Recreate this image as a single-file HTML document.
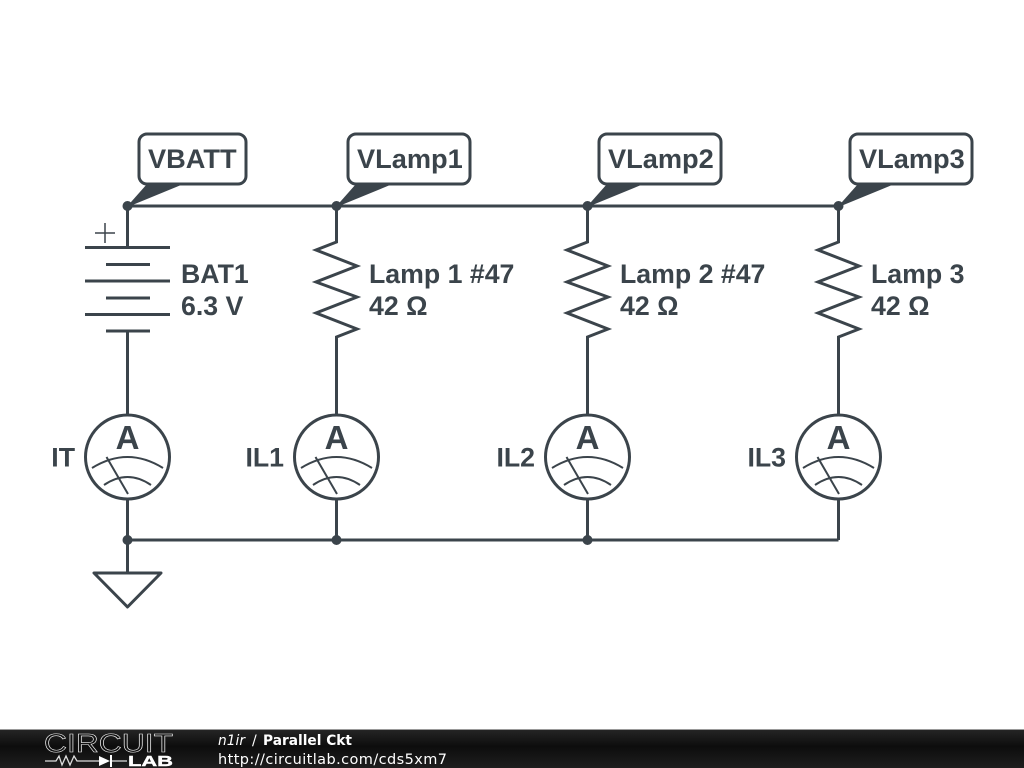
<!DOCTYPE html>
<html><head><meta charset="utf-8"><style>
html,body{margin:0;padding:0;background:#fff;width:1024px;height:768px;overflow:hidden}
svg{display:block}
.l{font:bold 26.7px "Liberation Sans",sans-serif;fill:#3b444b}
.v{font:bold 27.2px "Liberation Sans",sans-serif;fill:#3b444b}
.f{font:14.5px "DejaVu Sans",sans-serif;fill:#fff}
</style></head><body>
<svg width="1024" height="768" viewBox="0 0 1024 768" xmlns="http://www.w3.org/2000/svg">
<defs>
<linearGradient id="g" x1="0" y1="0" x2="0" y2="1"><stop offset="0" stop-color="#262626"/><stop offset=".45" stop-color="#0d0d0d"/><stop offset="1" stop-color="#1e1e1e"/></linearGradient>
<g id="am">
<circle cx="0" cy="0" r="42" fill="#fff" stroke="#3b444b" stroke-width="3"/>
<text x="0" y="-8" text-anchor="middle" style="font:bold 33px 'Liberation Sans',sans-serif;fill:#3b444b">A</text>
<path d="M-35.500 11Q0 -11 35.500 11M-23.500 28Q0 12 23.500 28M-21 0L0.500 37" fill="none" stroke="#3b444b" stroke-width="2"/>
</g>
<path id="rs" d="M0 35L0 36L-20.500 44L20.500 60L-20.500 76L20.500 91L-20.500 107L20.500 123L0 131L0 209" fill="none" stroke="#3b444b" stroke-width="3"/>
</defs>
<rect width="1024" height="768" fill="#fff"/>
<g fill="none" stroke="#3b444b" stroke-width="3">
<path d="M127.500 206H838.500M127.500 540H838.500"/>
<path d="M127.500 206V247.500M127.500 331V415M127.500 499V573M336.500 206V241M587.500 206V241M838.500 206V241M336.500 499V540M587.500 499V540M838.500 499V540"/>
<path d="M85 247.500H170M106 264.500H150M85 281H170M106 298H150M85 314.500H170M106 331H150"/>
<path d="M95 233H115M105 223V243" stroke-width="1.500"/>
<path d="M94 573H161L127.500 607Z" stroke-linejoin="round"/>
</g>
<use href="#rs" x="336.500" y="206"/><use href="#rs" x="587.500" y="206"/><use href="#rs" x="838.500" y="206"/>
<use href="#am" x="127.500" y="457"/><use href="#am" x="336.500" y="457"/><use href="#am" x="587.500" y="457"/><use href="#am" x="838.500" y="457"/>
<g fill="#fff" stroke="#3b444b" stroke-width="3">
<rect x="139" y="134" width="107" height="50" rx="8"/>
<rect x="348" y="134" width="122" height="50" rx="8"/>
<rect x="599" y="134" width="122" height="50" rx="8"/>
<rect x="850" y="134" width="122" height="50" rx="8"/>
</g>
<g fill="#3b444b">
<circle cx="127.500" cy="206" r="5"/><circle cx="336.500" cy="206" r="5"/><circle cx="587.500" cy="206" r="5"/><circle cx="838.500" cy="206" r="5"/>
<circle cx="127.500" cy="540" r="5"/><circle cx="336.500" cy="540" r="5"/><circle cx="587.500" cy="540" r="5"/>
<path d="M127.500 206L147 184H183.500L130 206Z"/><path d="M336.500 206L356 184H392.500L339 206Z"/><path d="M587.500 206L607 184H643.500L590 206Z"/><path d="M838.500 206L858 184H894.500L841 206Z"/>
</g>
<text class="v" x="148" y="168">VBATT</text>
<text class="v" x="357" y="168">VLamp1</text>
<text class="v" x="608" y="168">VLamp2</text>
<text class="v" x="859" y="168">VLamp3</text>
<text class="l" x="181" y="283">BAT1</text>
<text class="l" x="181" y="315">6.3 V</text>
<text class="l" x="369" y="283">Lamp 1 #47</text>
<text class="l" x="369" y="315">42 Ω</text>
<text class="l" x="620" y="283">Lamp 2 #47</text>
<text class="l" x="620" y="315">42 Ω</text>
<text class="l" x="871" y="283">Lamp 3</text>
<text class="l" x="871" y="315">42 Ω</text>
<text class="l" x="75" y="466.500" text-anchor="end">IT</text>
<text class="l" x="284" y="466.500" text-anchor="end">IL1</text>
<text class="l" x="535" y="466.500" text-anchor="end">IL2</text>
<text class="l" x="786" y="466.500" text-anchor="end">IL3</text>
<rect x="0" y="729" width="1024" height="39" fill="url(#g)"/>
<rect x="0" y="729" width="1024" height="1" fill="#999"/>
<text x="44" y="752" textLength="129" lengthAdjust="spacingAndGlyphs" style="font:26px 'Liberation Sans',sans-serif;fill:#111;stroke:#f0f0f0;stroke-width:.6">CIRCUIT</text>
<path d="M45 761H56L59 756L62 765L66 756L70 765L74 756L77 761H99M112 761H127" fill="none" stroke="#ddd" stroke-width="1.300"/>
<path d="M99 756V766L110 761Z" fill="#fff"/><rect x="110" y="755" width="2" height="12" fill="#fff"/>
<text x="128" y="766" textLength="45" lengthAdjust="spacingAndGlyphs" style="font:bold 15px 'Liberation Sans',sans-serif;fill:#fff;stroke:#fff;stroke-width:.4">LAB</text>
<text class="f" x="218" y="745" style="font-size:14px;font-style:italic" textLength="27" lengthAdjust="spacingAndGlyphs">n1ir</text>
<text class="f" x="252" y="745" style="font-size:14px">/</text>
<text class="f" x="263" y="745" style="font-size:14px;font-weight:bold" textLength="89" lengthAdjust="spacingAndGlyphs">Parallel Ckt</text>
<text class="f" x="218" y="764" textLength="229">http://circuitlab.com/cds5xm7</text>
</svg>
</body></html>
